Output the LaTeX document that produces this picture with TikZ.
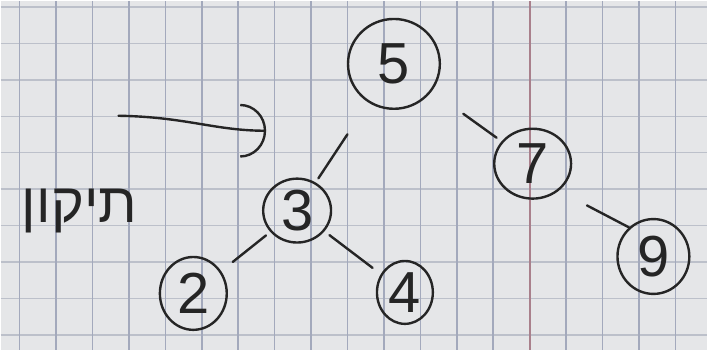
\documentclass[tikz,border=0pt]{standalone}
\usepackage{fontspec}
\usepackage{tikz}
\usetikzlibrary{arrows.meta,calc,shapes.geometric}
\setmainfont{Liberation Sans}
\newfontfamily\hebfont[Script=Hebrew]{Liberation Sans}
\TeXXeTstate=1
\definecolor{Paper}{HTML}{E5E6E8}
\definecolor{GridV}{HTML}{A3A9BC}
\definecolor{GridH}{HTML}{BCC0CA}
\definecolor{Margin}{HTML}{A9808C}
\definecolor{Ink}{HTML}{252525}
\tikzset{num/.style={ellipse,draw=Ink,line width=2.4pt,inner sep=0pt,text=Ink,font=\fontsize{58}{60}\selectfont},edge/.style={draw=Ink,line width=2.4pt,line cap=round},pointer/.style={-{Arc Barb[length=26pt,width=54pt]},draw=Ink,line width=2.4pt,line cap=round}}

\begin{document}
\begin{tikzpicture}[x=1pt,y=-1pt]
      \fill[Paper](0,0)rectangle(708,350);
      \foreach \i in {0,...,9}\draw[GridH,line width=1.4pt](0,6+36.5*\i)--(708,6+36.5*\i);
      \foreach \i in {0,...,18}\draw[GridV,line width=1.6pt](19+36.5*\i,0)--(19+36.5*\i,350);
      \draw[Margin,line width=2pt](530,0)--(530,350);
      \useasboundingbox(0,0)rectangle(708,350);
      \node[num,minimum width=92pt,minimum height=90pt](n5)at(394,63){5};
      \node[num,minimum width=77pt,minimum height=70pt](n7)at(533,163){7};
      \node[num,minimum width=68pt,minimum height=64pt](n3)at(297,210){3};
      \node[num,minimum width=67pt,minimum height=73pt](n2)at(193,293){2};
      \node[num,minimum width=56pt,minimum height=63pt](n4)at(405,292){4};
      \node[num,minimum width=72pt,minimum height=75pt](n9)at(654,256){9};
      \node[text=Ink,font={\hebfont\fontsize{56}{60}\selectfont},anchor=base](fix)at(79,222){\beginR תיקון\endR};
      \coordinate(tail)at(118,115);\coordinate(tip)at(266,130);
      \draw[pointer](tail)..controls(185,116)and(215,130)..(tip);
      \draw[edge]($(n5)!.48!(n3)$)--($(n5)!.78!(n3)$);\draw[edge]($(n5)!.5!(n7)$)--($(n5)!.74!(n7)$);
      \draw[edge]($(n3)!.3!(n2)$)--($(n3)!.62!(n2)$);\draw[edge]($(n3)!.3!(n4)$)--($(n3)!.7!(n4)$);
      \draw[edge]($(n7)!.45!(n9)$)--(n9.130);
    \end{tikzpicture}
\end{document}
